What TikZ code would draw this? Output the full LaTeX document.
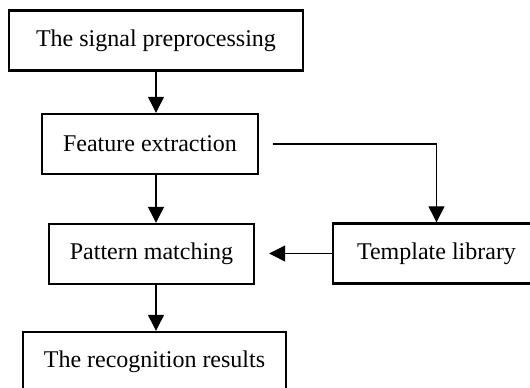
\documentclass[tikz,border=0pt]{standalone}
\usepackage{fontspec}
\setmainfont{Liberation Serif}
\usetikzlibrary{arrows.meta}

\begin{document}
\begin{tikzpicture}[x=0.5pt,y=-0.5pt]
        \tikzstyle{every node} = [rectangle, draw, line width=1.2pt, minimum height=30pt, inner sep=0pt, font=\fontsize{12}{14}\selectfont]
        \tikzstyle{arr} = [line width=0.6pt, -{Triangle[length=8pt,width=8pt]}]
        \clip (0,0) rectangle (530,387);
        \node[minimum width=147pt] (pre) at (156,40.5) {The signal preprocessing};
        \node[minimum width=108pt] (feat) at (150,144) {Feature extraction};
        \node[minimum width=102.5pt] (match) at (151.5,254) {Pattern matching};
        \node[minimum width=131.5pt] (res) at (154.5,362) {The recognition results};
        \node[minimum width=103.5pt] (lib) at (436.5,253.5) {Template library};
        \foreach \from/\to in {pre/feat, feat/match, match/res}
            \draw[arr] (\from.south -| pre.south) -- (\to.north -| pre.south);
        \draw[arr] ([xshift=7pt]feat.east) -| (lib.north);
        \draw[arr] (lib.west) -- ([xshift=7pt]match.east |- lib.west);
\end{tikzpicture}
\end{document}
